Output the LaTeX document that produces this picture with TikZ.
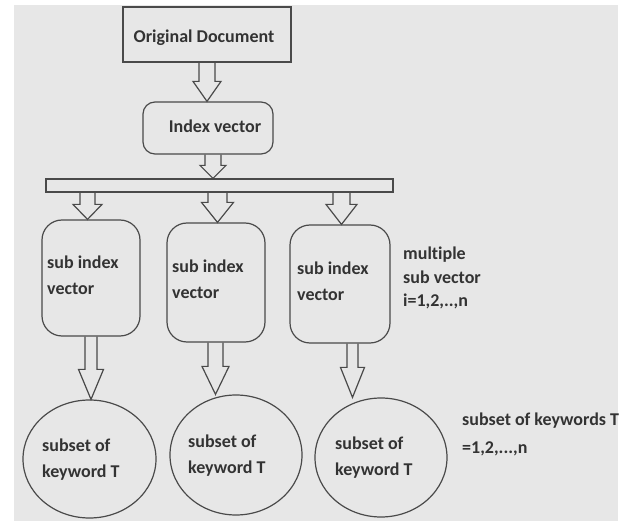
\documentclass[tikz,border=0pt]{standalone}
\usepackage{fontspec}
\setmainfont[Ligatures=NoCommon]{Carlito}
\usetikzlibrary{calc,shapes.geometric}

\definecolor{paper}{HTML}{E7E7E7}
\definecolor{ink}{HTML}{4A4A4A}
\definecolor{txt}{HTML}{333333}

\tikzset{
  frame/.style={draw=ink, line width=1.2pt},
  docbox/.style={frame, rectangle, inner sep=0pt},
  roundbox/.style={frame, rectangle, rounded corners=#1, inner sep=0pt},
  ovalbox/.style={frame, ellipse, inner sep=0pt},
  lbl/.style={text=txt, inner sep=0pt, align=left,
    font=\fontsize{18}{26}\selectfont\bfseries},
  blockarrow/.style={frame, line join=miter},
}

% hollow block arrow on a vertical axis at x=#1, from the bottom of node #2
% to the top of node #3; #4 shaft half width, #5 head half width, #6 head length
\newcommand{\blockarrow}[6]{%
  \draw[blockarrow] let \p1=(#1,0 |- #2.south), \p2=(#1,0 |- #3.north) in
    (\x1-#4pt,\y1) -- (\x1-#4pt,\y2+#6pt) -- (\x1-#5pt,\y2+#6pt) -- (\x2,\y2)
    -- (\x1+#5pt,\y2+#6pt) -- (\x1+#4pt,\y2+#6pt) -- (\x1+#4pt,\y1);}

\begin{document}
\begin{tikzpicture}[x=1pt,y=1pt]
\useasboundingbox (0,0) rectangle (627,-521);
\fill[white] (0,0) rectangle (627,-521);
\fill[paper] (14,-5) rectangle (618,-521);

% top of the chain
\node[docbox, minimum width=168, minimum height=55] (doc) at (207,-34.5) {};
\node[lbl] (doctext) at (204,-38) {Original Document};

\node[roundbox=12, minimum width=130, minimum height=52] (idx) at (208,-128) {};
\node[lbl] (idxtext) at (215,-126) {Index vector};

% splitting bar
\node[frame, rectangle, inner sep=0pt, minimum width=347, minimum height=13] (bar) at (219.5,-185.5) {};

% sub index vectors
\node[roundbox=20, minimum width=98, minimum height=116] (b1) at (91,-278) {};
\node[roundbox=20, minimum width=98, minimum height=119] (b2) at (216,-282.5) {};
\node[roundbox=20, minimum width=100, minimum height=118] (b3) at (340,-284) {};
\node[lbl, anchor=west] (b1text) at (47,-275) {sub index\\vector};
\node[lbl, anchor=west] (b2text) at (172,-279) {sub index\\vector};
\node[lbl, anchor=west] (b3text) at (297,-281) {sub index\\vector};

% keyword subsets
\node[ovalbox, minimum width=133, minimum height=118] (e1) at (89.5,-459) {};
\node[ovalbox, minimum width=132, minimum height=120] (e2) at (236,-455) {};
\node[ovalbox, minimum width=132, minimum height=119] (e3) at (381,-457.5) {};
\node[lbl, anchor=west] (e1text) at (42,-459.5) {subset of\\keyword T};
\node[lbl, anchor=west] (e2text) at (188,-456) {subset of\\keyword T};
\node[lbl, anchor=west] (e3text) at (335,-457.5) {subset of\\keyword T};

% side notes
\node[lbl, anchor=west, font=\fontsize{18}{23.5}\selectfont\bfseries] (multi) at (403,-278)
  {multiple\\sub vector\\i=1,2,..,n};
\node[lbl, anchor=west, font=\fontsize{18}{28}\selectfont\bfseries] (kwnote) at (462,-434)
  {subset of keywords T\\=1,2,...,n};

% block arrows
\blockarrow{207}{doc}{idx}{8}{14}{20}
\blockarrow{213}{idx}{bar}{8}{13}{13}
\blockarrow{87.5}{bar}{b1}{7.5}{14.5}{15}
\blockarrow{217.5}{bar}{b2}{9.5}{16}{20}
\blockarrow{341.5}{bar}{b3}{8.5}{15.5}{20}
\blockarrow{91}{b1}{e1}{6}{12.5}{30}
\blockarrow{215.5}{b2}{e2}{7.5}{13.5}{28}
\blockarrow{352.5}{b3}{e3}{5.5}{12}{30}
\end{tikzpicture}
\end{document}
